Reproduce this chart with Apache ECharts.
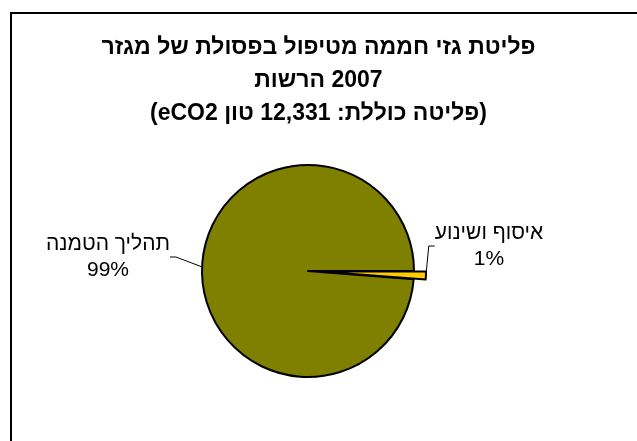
<!DOCTYPE html>
<html>
<head>
<meta charset="utf-8">
<script src="https://cdn.jsdelivr.net/npm/echarts@6/dist/echarts.min.js"></script>
<style>html,body{margin:0;padding:0;background:#fff}#c{width:637px;height:441px}</style>
</head>
<body>
<div id="c"></div>
<script>
// Title lines
const titleLines = [
  'פליטת גזי חממה מטיפול בפסולת של מגזר',
  '\u202Aהרשות\u200E 2007\u202C',
  '\u202B(פליטה כוללת: 12,331 טון eCO2)\u202C'
];
// Categories and values (tonnes eCO2)
const categories = ['איסוף ושינוע', 'תהליך הטמנה'];
const values = [151, 12180];
const sliceColors = ['#FFCC00', '#808000'];

const chart = echarts.init(document.getElementById('c'), null, {renderer: 'canvas'});
const FONT = 'Liberation Sans, Arial, sans-serif';

const CX = 308, CY = 271, R = 106, EXPLODE = 12;
const total = values.reduce((a, b) => a + b, 0);
const midAng = (values[0] / total) * Math.PI; // half of first slice angle (radians), clockwise from 0
const ex = CX + EXPLODE * Math.cos(midAng);
const ey = CY + EXPLODE * Math.sin(midAng);

const labelLayouts = [
  {x: 489, y: 246, align: 'center', verticalAlign: 'middle'},
  {x: 108, y: 257, align: 'center', verticalAlign: 'middle'}
];

function makeSeries(showIdx, center) {
  return {
    type: 'pie',
    center: center,
    radius: R,
    startAngle: 0,
    clockwise: true,
    avoidLabelOverlap: false,
    silent: true,
    emphasis: {disabled: true},
    labelLine: {length: 20, length2: 6, lineStyle: {color: '#000', width: 1}},
    labelLayout: function (p) {
      return labelLayouts[p.dataIndex];
    },
    data: categories.map((c, i) => {
      const vis = i === showIdx;
      return {
        name: c, value: values[i],
        itemStyle: vis ? {color: sliceColors[i], borderColor: '#000', borderWidth: 2}
                       : {color: 'rgba(0,0,0,0)', borderWidth: 0},
        label: {
          show: vis, position: 'outside',
          fontFamily: FONT, fontSize: 21, color: '#000', lineHeight: 26, align: 'center',
          formatter: p => p.name + '\n' + Math.round(p.percent) + '%'
        },
        labelLine: {show: vis}
      };
    })
  };
}

chart.setOption({
  backgroundColor: '#ffffff',
  animation: false,
  title: {
    text: titleLines.join('\n'),
    left: 'center',
    top: 31,
    padding: 0,
    textStyle: {fontFamily: FONT, fontSize: 23, fontWeight: 'bold', color: '#000', lineHeight: 33}
  },
  graphic: [{
    type: 'rect', silent: true,
    shape: {x: 11, y: 13, width: 640, height: 440},
    style: {fill: 'none', stroke: '#000', lineWidth: 2}
  }],
  series: [
    makeSeries(1, [CX, CY]),
    makeSeries(0, [ex, ey])
  ]
});
</script>
</body>
</html>
